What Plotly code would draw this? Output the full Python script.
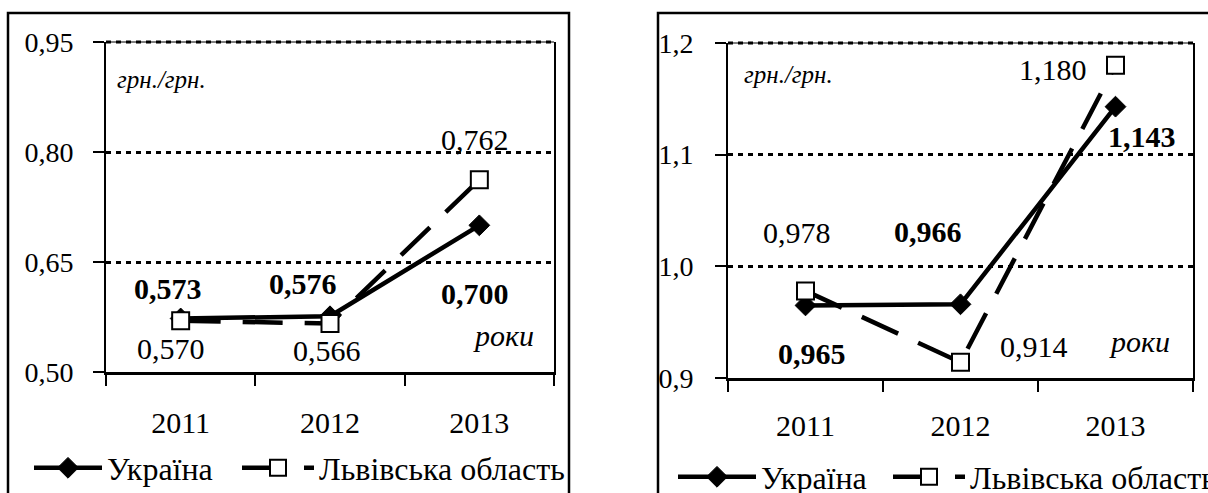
import plotly.graph_objects as go

years = ["2011", "2012", "2013"]

# Left panel
left_ukraine = [0.573, 0.576, 0.700]
left_lviv = [0.570, 0.566, 0.762]
left_ticks = [0.50, 0.65, 0.80, 0.95]
left_ticktext = ["0,50", "0,65", "0,80", "0,95"]

# Right panel
right_ukraine = [0.965, 0.966, 1.143]
right_lviv = [0.978, 0.914, 1.180]
right_ticks = [0.9, 1.0, 1.1, 1.2]
right_ticktext = ["0,9", "1,0", "1,1", "1,2"]

name_ua = "Україна"
name_lv = "Львівська область"
unit_text = "грн./грн."
years_text = "роки"

W, H = 1208, 493
FONT = "Liberation Serif, Times New Roman, DejaVu Serif, serif"


def fmt(v):
    return f"{v:.3f}".replace(".", ",")


def px_x(p):
    return p / W


def px_y(p):
    return (H - p) / H


fig = go.Figure()

panels = [
    dict(xa="x", ya="y", leg_ua="legend", leg_lv="legend3",
         ua=left_ukraine, lv=left_lviv),
    dict(xa="x2", ya="y2", leg_ua="legend2", leg_lv="legend4",
         ua=right_ukraine, lv=right_lviv),
]

for p in panels:
    fig.add_trace(go.Scatter(
        x=years, y=p["ua"], name=name_ua, xaxis=p["xa"], yaxis=p["ya"],
        legend=p["leg_ua"], mode="lines+markers",
        line=dict(color="black", width=4.5),
        marker=dict(symbol="diamond", size=16, color="black",
                    line=dict(color="black", width=1)),
    ))
    fig.add_trace(go.Scatter(
        x=years, y=p["lv"], name=name_lv, xaxis=p["xa"], yaxis=p["ya"],
        legend=p["leg_lv"], mode="lines+markers",
        line=dict(color="black", width=4.5, dash="40px,22px"),
        marker=dict(symbol="square", size=17, color="white",
                    line=dict(color="black", width=2)),
    ))

axis_common = dict(
    showline=True, linecolor="black", ticks="outside", tickcolor="black",
    tickwidth=2, ticklen=11, zeroline=False, automargin=False,
)
xfont = dict(family=FONT, size=30, color="black")
yfont = dict(family=FONT, size=28, color="black")

fig.update_layout(
    template="none",
    xaxis=dict(domain=[px_x(106), px_x(554)], anchor="y", type="category",
               range=[-0.5, 2.5], tickson="boundaries", linewidth=3,
               showgrid=False, ticklabelstandoff=22, tickfont=xfont, **axis_common),
    xaxis2=dict(domain=[px_x(728), px_x(1193)], anchor="y2", type="category",
                range=[-0.5, 2.5], tickson="boundaries", linewidth=3,
                showgrid=False, ticklabelstandoff=19, tickfont=xfont, **axis_common),
    yaxis=dict(domain=[px_y(372), px_y(42)], anchor="x", range=[0.5, 0.95],
               tickvals=left_ticks, ticktext=left_ticktext, linewidth=2,
               mirror=True, showgrid=True, gridcolor="black", gridwidth=3,
               griddash="5px,5px", ticklabelstandoff=14, tickfont=yfont, **axis_common),
    yaxis2=dict(domain=[px_y(378), px_y(43)], anchor="x2", range=[0.9, 1.2],
                tickvals=right_ticks, ticktext=right_ticktext, linewidth=2,
                mirror=True, showgrid=True, gridcolor="black", gridwidth=3,
                griddash="5px,5px", ticklabelstandoff=16, tickfont=yfont, **axis_common),
)

for xa, ya in [("x", "y"), ("x2", "y2")]:
    fig.add_shape(type="line", xref=f"{xa} domain", yref=f"{ya} domain",
                  x0=0, x1=1, y0=1, y1=1,
                  line=dict(color="black", width=3, dash="5px,5px"))
    fig.add_shape(type="line", xref=f"{xa} domain", yref=f"{ya} domain",
                  x0=0, x1=1, y0=1, y1=1,
                  line=dict(color="black", width=1))

fig.add_shape(type="rect", xref="paper", yref="paper",
              x0=px_x(8), x1=px_x(569), y0=px_y(520), y1=px_y(13),
              line=dict(color="black", width=2.5))
fig.add_shape(type="rect", xref="paper", yref="paper",
              x0=px_x(658), x1=px_x(1230), y0=px_y(520), y1=px_y(13),
              line=dict(color="black", width=2.5))

left_labels = [
    (left_ukraine, 0, True, -13, 30),
    (left_ukraine, 1, True, -27, 33),
    (left_ukraine, 2, True, -4, -68),
    (left_lviv, 0, False, -10, -28),
    (left_lviv, 1, False, -3, -27),
    (left_lviv, 2, False, -4, 40),
]
right_labels = [
    (right_ukraine, 0, True, 6, -48),
    (right_ukraine, 1, True, -33, 73),
    (right_ukraine, 2, True, 26, -30),
    (right_lviv, 0, False, -9, 58),
    (right_lviv, 1, False, 73, 16),
    (right_lviv, 2, False, -63, -4),
]

for labels, xa, ya in [(left_labels, "x", "y"), (right_labels, "x2", "y2")]:
    for series, i, bold, dx, dy in labels:
        v = series[i]
        txt = f"<b>{fmt(v)}</b>" if bold else fmt(v)
        fig.add_annotation(x=i, y=v, xref=xa, yref=ya, text=txt,
                           showarrow=False, xshift=dx, yshift=dy,
                           font=dict(family=FONT, size=30, color="black"))

fig.add_annotation(xref="x domain", yref="y domain", x=0.02, y=0.885,
                   xanchor="left", yanchor="middle", showarrow=False,
                   text=f"<i>{unit_text}</i>",
                   font=dict(family=FONT, size=25, color="black"))
fig.add_annotation(xref="x2 domain", yref="y2 domain", x=0.03, y=0.905,
                   xanchor="left", yanchor="middle", showarrow=False,
                   text=f"<i>{unit_text}</i>",
                   font=dict(family=FONT, size=25, color="black"))
fig.add_annotation(xref="x domain", yref="y domain", x=0.888, y=0.11,
                   xanchor="center", yanchor="middle", showarrow=False,
                   text=f"<i>{years_text}</i>",
                   font=dict(family=FONT, size=30, color="black"))
fig.add_annotation(xref="x2 domain", yref="y2 domain", x=0.884, y=0.11,
                   xanchor="center", yanchor="middle", showarrow=False,
                   text=f"<i>{years_text}</i>",
                   font=dict(family=FONT, size=30, color="black"))

legend_common = dict(orientation="h", yanchor="middle", xanchor="left",
                     bgcolor="rgba(0,0,0,0)", borderwidth=0,
                     font=dict(family=FONT, size=32, color="black"),
                     tracegroupgap=0)

fig.update_layout(
    width=W, height=H,
    margin=dict(l=0, r=0, t=0, b=0, pad=0, autoexpand=False),
    paper_bgcolor="white", plot_bgcolor="white",
    font=dict(family=FONT, color="black"),
    legend=dict(x=px_x(29), y=px_y(468), itemwidth=68, **legend_common),
    legend3=dict(x=px_x(237), y=px_y(468), itemwidth=72, **legend_common),
    legend2=dict(x=px_x(673), y=px_y(477), itemwidth=78, **legend_common),
    legend4=dict(x=px_x(888), y=px_y(477), itemwidth=72, **legend_common),
    showlegend=True,
)

fig.write_html("out.html", config={"displayModeBar": False},
               post_script="document.body.style.margin='0';document.body.style.overflow='hidden';")
